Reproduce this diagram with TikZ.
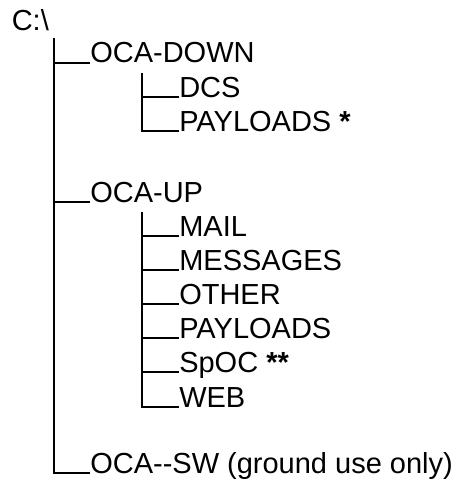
\documentclass[tikz,border=0pt]{standalone}
\usepackage{fontspec}
\setmainfont{Liberation Sans}
\begin{document}
\begin{tikzpicture}[x=0.75pt,y=-0.75pt,
  lbl/.style={anchor=base west,inner sep=0pt,font=\fontsize{21.75}{26}\selectfont},
  tree/.style={line width=1.5pt,black}]
\useasboundingbox (0,0) rectangle (463,485);
% labels
\node[lbl] (root) at (11.5,31) {C:\textbackslash};
\node[lbl] (ocadown) at (90,63) {OCA-DOWN};
\node[lbl] (dcs) at (179,97) {DCS};
\node[lbl] (payd) at (179,131) {PAYLOADS \textbf{*}};
\node[lbl] (ocaup) at (90,202) {OCA-UP};
\node[lbl] (mail) at (179,236) {MAIL};
\node[lbl] (msgs) at (179,270) {MESSAGES};
\node[lbl] (other) at (179,304) {OTHER};
\node[lbl] (payu) at (179,338) {PAYLOADS};
\node[lbl] (spoc) at (179,372) {SpOC \textbf{**}};
\node[lbl] (web) at (179,407) {WEB};
\node[lbl] (ocasw) at (90,473) {OCA-{}-SW (ground use only)};
% trunk tops
\coordinate (t0) at (54,38);
\coordinate (t1) at (142,73);
\coordinate (t2) at (142,212);
% connectors
\draw[tree] (t0) |- (ocadown.base west);
\draw[tree] (t0) |- (ocaup.base west);
\draw[tree] (t0) |- (ocasw.base west);
\draw[tree] (t1) |- (dcs.base west);
\draw[tree] (t1) |- (payd.base west);
\draw[tree] (t2) |- (mail.base west);
\draw[tree] (t2) |- (msgs.base west);
\draw[tree] (t2) |- (other.base west);
\draw[tree] (t2) |- (payu.base west);
\draw[tree] (t2) |- (spoc.base west);
\draw[tree] (t2) |- (web.base west);
\end{tikzpicture}
\end{document}
